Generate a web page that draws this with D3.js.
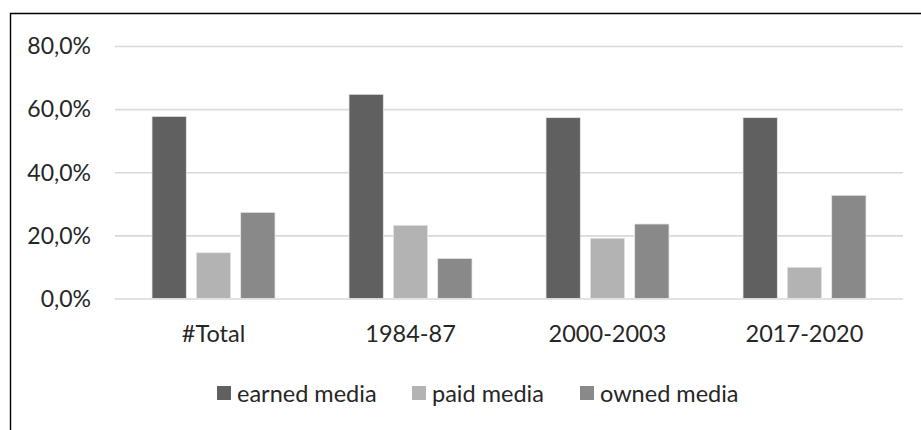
<!DOCTYPE html>
<html>
<head>
<meta charset="utf-8">
<script src="https://cdn.jsdelivr.net/npm/d3@7"></script>
<style>
  html, body { margin: 0; padding: 0; background: #fff; }
  svg { display: block; }
  text { font-family: Lato, "Open Sans", sans-serif; fill: #262626; }
</style>
</head>
<body>
<svg id="chart" width="921" height="430"></svg>
<script>
const categories = ["#Total", "1984-87", "2000-2003", "2017-2020"];
const seriesNames = ["earned media", "paid media", "owned media"];
const earned = [0.577, 0.647, 0.573, 0.573];
const paid = [0.145, 0.232, 0.191, 0.099];
const owned = [0.273, 0.127, 0.236, 0.327];
const yTicks = [0, 0.2, 0.4, 0.6, 0.8];
const colors = ["#606060", "#b3b3b3", "#898989"];

const values = [earned, paid, owned];
const svg = d3.select("#chart");

// frame around the chart area
svg.append("path")
  .attr("d", "M10.5,430 V13.5 H921")
  .attr("fill", "none")
  .attr("stroke", "#000")
  .attr("stroke-width", 1.4);

const x = d3.scaleBand().domain(categories).range([115, 903]).padding(0);
const y = d3.scaleLinear().domain([0, 0.8]).range([298.5, 46]);
const groupWidth = 123;
const xs = d3.scaleBand().domain(seriesNames)
  .range([-groupWidth / 2, groupWidth / 2]).paddingInner(0.226).paddingOuter(0);

const fmt = v => d3.format(".1f")(v * 100).replace(".", ",") + "%";

// y axis: gridlines and labels
const yAxis = d3.axisLeft(y).tickValues(yTicks).tickFormat(fmt)
  .tickSize(-(903 - 115)).tickPadding(24);
const gy = svg.append("g").attr("transform", "translate(115,0)").call(yAxis);
gy.select(".domain").remove();
gy.selectAll(".tick line").attr("stroke", "#d9d9d9").attr("stroke-width", 1.6);
gy.selectAll(".tick text")
  .attr("font-size", 23)
  .attr("fill", "#262626")
  .attr("dy", "0.34em");

// bars
const rows = categories.map((c, i) => ({ c, vals: seriesNames.map((s, j) => ({ s, v: values[j][i], color: colors[j] })) }));
const groups = svg.append("g").selectAll("g").data(rows).join("g")
  .attr("transform", d => `translate(${x(d.c) + x.bandwidth() / 2},0)`);
groups.selectAll("rect").data(d => d.vals).join("rect")
  .attr("x", d => xs(d.s))
  .attr("width", xs.bandwidth())
  .attr("y", d => y(d.v))
  .attr("height", d => y(0) - y(d.v))
  .attr("fill", d => d.color)
  .attr("stroke", "#e6e6e6")
  .attr("stroke-width", 0.8);

// category axis labels
const xAxis = d3.axisBottom(x).tickSize(0).tickPadding(0);
const gx = svg.append("g").attr("transform", "translate(0,341.5)").call(xAxis);
gx.select(".domain").remove();
gx.selectAll(".tick text")
  .attr("font-size", 23.5)
  .attr("fill", "#262626")
  .attr("dy", 0)
  .attr("y", 0);

// legend
const legendX = [217, 412, 580];
const lg = svg.append("g").selectAll("g").data(seriesNames).join("g")
  .attr("transform", (d, i) => `translate(${legendX[i]},386)`);
lg.append("rect").attr("width", 14).attr("height", 14)
  .attr("fill", (d, i) => colors[i]);
lg.append("text").attr("x", 20).attr("y", 16)
  .attr("font-size", 23.5).text(d => d);
</script>
</body>
</html>
